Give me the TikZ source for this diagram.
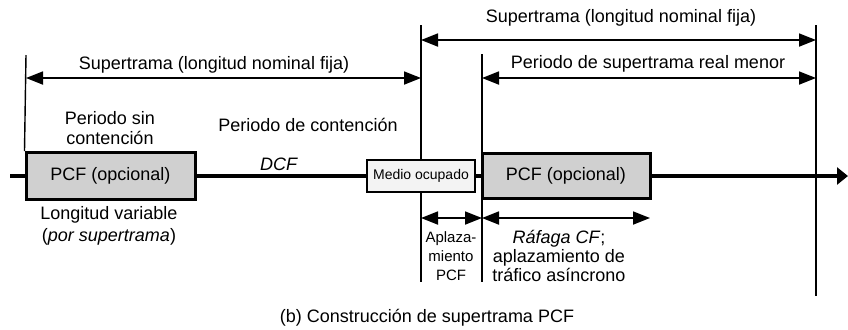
\documentclass[tikz,border=0pt]{standalone}
\usepackage{fontspec}
\setmainfont{Liberation Sans}
\usetikzlibrary{arrows.meta,positioning,backgrounds}
\definecolor{tramagris}{HTML}{D0D0D0}
\definecolor{mediogris}{HTML}{F3F3F3}
\tikzset{
  % eje de tiempo
  eje/.style={draw=black,line width=1.6pt},
  marca/.style={draw=black,line width=0.7pt},
  cota/.style={{Triangle[length=8.5pt,width=6.5pt]}-{Triangle[length=8.5pt,width=6.5pt]},
               draw=black,line width=0.9pt},
  % cajas
  pcf/.style={draw=black,fill=tramagris,line width=1.5pt,inner sep=0pt,
              font=\fontsize{9}{10}\selectfont},
  ocup/.style={draw=black,fill=mediogris,line width=1.3pt,inner sep=0pt,
               font=\fontsize{7}{8}\selectfont},
  % textos
  txt/.style={font=\fontsize{9}{10}\selectfont,align=center,inner sep=0pt},
  txtp/.style={font=\fontsize{9}{9.5}\selectfont,align=center,inner sep=0pt},
  txtc/.style={font=\fontsize{7.5}{9.5}\selectfont,align=center,inner sep=0pt},
}
\begin{document}
\begin{tikzpicture}[x=0.5pt,y=-0.5pt]
  \useasboundingbox (0,0) rectangle (848,329);
  % cajas sobre el eje
  \node[pcf,minimum width=84.5pt,minimum height=23.5pt] (pcfA) at (110.5,176) {PCF (opcional)};
  \node[ocup,minimum width=54pt,minimum height=16pt] (medio) at (421,176) {Medio ocupado};
  \node[pcf,minimum width=84pt,minimum height=22.5pt] (pcfB) at (566,176) {PCF (opcional)};
  \coordinate (ini) at (10,176);
  \coordinate (fin) at (848,176);
  \draw[eje] (ini) -- (pcfA.west);
  \draw[eje] (pcfA.east) -- (medio.west);
  \draw[eje] (medio.east) -- (pcfB.west);
  \draw[eje,-{Triangle[length=5.5pt,width=8.5pt]}] (pcfB.east) -- (fin);
  % marcas verticales
  \coordinate (m1) at (26,55);
  \coordinate (m2a) at (421,25);  \coordinate (m2b) at (421,282);
  \coordinate (m3a) at (482,54);  \coordinate (m3b) at (482,282);
  \coordinate (m4a) at (816,25);  \coordinate (m4b) at (816,296);
  \begin{scope}[on background layer]
    \draw[marca] (m1) -- (pcfA.north west);
    \draw[marca] (m2a) -- (m2b);
    \draw[marca] (m3a) -- (m3b);
    \draw[marca] (m4a) -- (m4b);
  \end{scope}
  % cotas
  \coordinate (s1a) at (26,78);   \coordinate (s1b) at (421,78);
  \coordinate (s2a) at (421,40);  \coordinate (s2b) at (816,40);
  \coordinate (s3a) at (482,78);  \coordinate (s3b) at (816,78);
  \coordinate (c1a) at (421,218); \coordinate (c1b) at (482,218);
  \coordinate (c2b) at (650,218);
  \draw[cota] (s1a) -- (s1b);
  \draw[cota] (s2a) -- (s2b);
  \draw[cota] (s3a) -- (s3b);
  \draw[cota] (c1a) -- (c1b);
  \draw[cota] (c1b) -- (c2b);
  % textos
  \node[txt] (supA) at (214,65) {Supertrama (longitud nominal fija)};
  \node[txt] (supB) at (621,18) {Supertrama (longitud nominal fija)};
  \node[txt] (real) at (648,64) {Periodo de supertrama real menor};
  \node[txt] (sinc) at (110,128) {Periodo sin\\contención};
  \node[txt] (conc) at (308,125) {Periodo de contención};
  \node[txt] (dcf) at (279,164) {\textit{DCF}};
  \node[txt,font=\fontsize{9}{11}\selectfont] (lvar) at (109,226) {Longitud variable\\(\textit{por supertrama})};
  \node[txtc] (aplz) at (451,256) {Aplaza-\\miento\\PCF};
  \node[txtp] (rafg) at (559,256) {\textit{Ráfaga CF};\\aplazamiento de\\tráfico asíncrono};
  \node[txt] (capt) at (427,318) {(b) Construcción de supertrama PCF};
\end{tikzpicture}
\end{document}
